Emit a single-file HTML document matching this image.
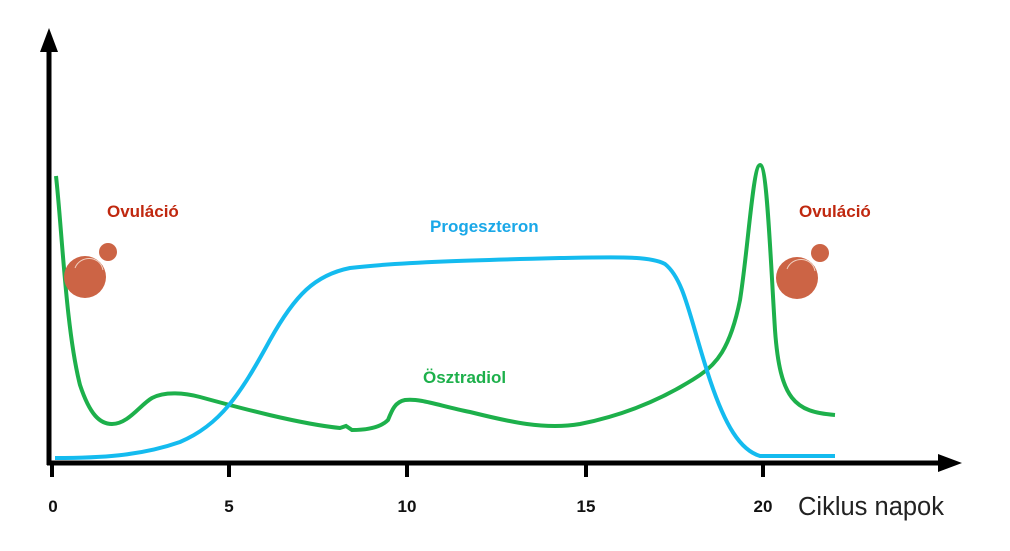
<!DOCTYPE html>
<html><head><style>body{margin:0;background:#fff}svg{display:block}</style></head><body>
<svg width="1010" height="551" xmlns="http://www.w3.org/2000/svg" font-family="Liberation Sans, Arial, sans-serif">
<path d="M56,176 C62,230 66,330 80,385 C90,415 100,424 112,424 C128,424 140,405 152,398 C165,391 185,393 200,397 C240,408 300,424 340,428 L346,426 L352,430 C365,430 380,428 388,420 C392,410 395,402 405,400 C420,398 440,406 470,412 C510,422 545,430 580,424 C630,414 670,395 700,375 C715,365 730,350 740,300 C748,250 753,165 760,165 C767,165 770,250 775,330 C780,400 795,412 835,415" fill="none" stroke="#1db04b" stroke-width="4"/>
<path d="M55,458 C100,458 140,456 180,442 C220,425 240,395 270,340 C295,295 315,275 350,268 C400,262 480,260 560,258 C620,257 650,256 665,264 C685,280 690,320 710,380 C725,425 740,450 760,456 L835,456" fill="none" stroke="#14bbef" stroke-width="4"/>
<line x1="49" y1="45" x2="49" y2="465" stroke="#000" stroke-width="5"/>
<polygon points="49,28 40,52 58,52" fill="#000"/>
<line x1="47" y1="463" x2="945" y2="463" stroke="#000" stroke-width="5"/>
<polygon points="962,463 938,454 938,472" fill="#000"/>
<g stroke="#000" stroke-width="4"><line x1="52" y1="463" x2="52" y2="477"/><line x1="229" y1="463" x2="229" y2="477"/><line x1="407" y1="463" x2="407" y2="477"/><line x1="586" y1="463" x2="586" y2="477"/><line x1="763" y1="463" x2="763" y2="477"/></g>
<g font-size="17" font-weight="bold" text-anchor="middle" fill="#111"><text x="53" y="512">0</text><text x="229" y="512">5</text><text x="407" y="512">10</text><text x="586" y="512">15</text><text x="763" y="512">20</text></g>
<text x="798" y="515" font-size="25.5" fill="#222">Ciklus napok</text>
<g font-size="17" font-weight="bold" fill="#c0280f"><text x="107" y="217">Ovuláció</text><text x="799" y="217">Ovuláció</text></g>
<text x="430" y="232" font-size="17" font-weight="bold" fill="#1aa8e8">Progeszteron</text>
<text x="423" y="383" font-size="17" font-weight="bold" fill="#1db04b">Ösztradiol</text>
<g fill="#cc6445"><circle cx="108" cy="252" r="9"/><circle cx="85" cy="277" r="21"/><circle cx="820" cy="253" r="9"/><circle cx="797" cy="278" r="21"/></g>
<g fill="none" stroke="#f0d0c0" stroke-width="1"><path d="M75,268 C80,255 100,255 103,270"/><path d="M787,269 C792,256 812,256 815,271"/></g>
</svg>
</body></html>
